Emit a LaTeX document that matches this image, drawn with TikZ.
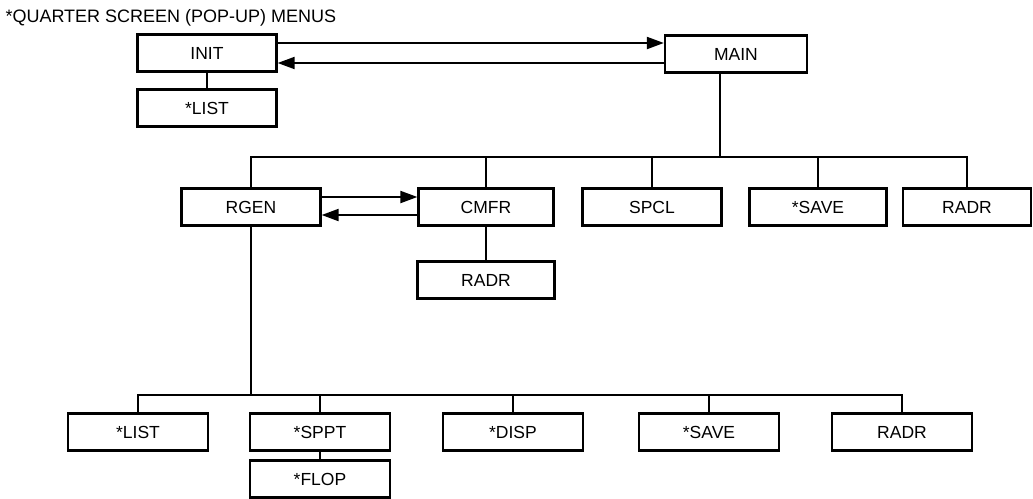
\documentclass[tikz,border=0pt]{standalone}
\usepackage{fontspec}
\setmainfont{Liberation Sans}
\usepackage{tikz}
\usetikzlibrary{arrows.meta,positioning}

\begin{document}
\begin{tikzpicture}[
      font=\fontsize{17.5}{20}\selectfont, x=1pt, y=-1pt,
      menu/.style={draw, line width=2.3pt, minimum width=139pt, minimum height=37pt, inner sep=2pt},
      ln/.style={line width=2.1pt},
      ar/.style={ln, -{Triangle[length=17pt, width=12pt]}}]
    \useasboundingbox (0,0) rectangle (1033,498);
    \node[anchor=west, font=\fontsize{18}{20}\selectfont] (title) at (2,18) {*QUARTER SCREEN (POP-UP) MENUS};
    % top level
    \node[menu] (init)  at (207,53)  {INIT};
    \node[menu] (list)  at (207,108) {*LIST};
    \node[menu, minimum width=142pt] (main) at (736,54) {MAIN};
    \draw[ln] (init) -- (list);
    \draw[ar] ([yshift=10pt]init.east) -- ([yshift=10pt]init.east -| main.west);
    \draw[ar] ([yshift=-9pt]main.west) -- ([yshift=-9pt]main.west -| init.east);
    % second level
    \node[menu] (rgen)  at (251,207) {RGEN};
    \node[menu, minimum width=135pt] (cmfr) at (486,207) {CMFR};
    \node[menu] (spcl)  at (652,207) {SPCL};
    \node[menu, minimum width=137pt] (save) at (818,207) {*SAVE};
    \node[menu, minimum width=128pt] (radr) at (967,207) {RADR};
    \node[menu, minimum width=137pt] (cmradr) at (486,280) {RADR};
    \coordinate (bus) at (720,157);
    \draw[ln] (main.south -| bus) -- (bus);
    \foreach \n in {rgen,cmfr,spcl,save,radr}
      \draw[ln] (bus) -| (\n.north);
    \draw[ar] ([yshift=10pt]rgen.east) -- ([yshift=10pt]rgen.east -| cmfr.west);
    \draw[ar] ([yshift=-8pt]cmfr.west) -- ([yshift=-8pt]cmfr.west -| rgen.east);
    \draw[ln] (cmfr) -- (cmradr);
    % third level
    \node[menu, minimum width=140pt] (rlist) at (138,432) {*LIST};
    \node[menu, minimum width=140pt] (sppt)  at (320,432) {*SPPT};
    \node[menu, minimum width=140pt] (disp)  at (513,432) {*DISP};
    \node[menu, minimum width=140pt] (rsave) at (709,432) {*SAVE};
    \node[menu, minimum width=140pt] (rradr) at (902,432) {RADR};
    \node[menu, minimum width=140pt] (flop)  at (320,479) {*FLOP};
    \coordinate (rbus) at (251,395);
    \draw[ln] (rgen) -- (rbus);
    \foreach \n in {rlist,sppt,disp,rsave,rradr}
      \draw[ln] (rbus) -| (\n.north);
    \draw[ln] (sppt) -- (flop);
  \end{tikzpicture}
\end{document}
